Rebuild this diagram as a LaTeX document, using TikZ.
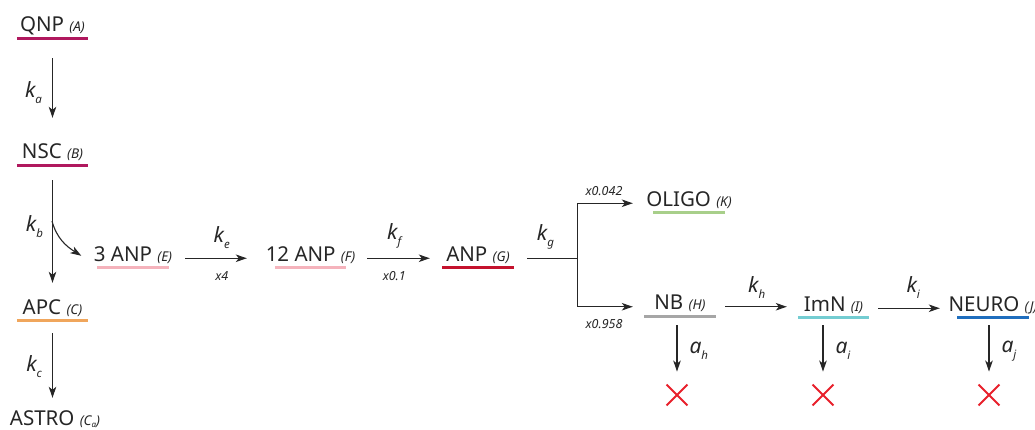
\documentclass[tikz,border=0pt]{standalone}
\usepackage{fontspec}
\setmainfont{Noto Sans}
\usetikzlibrary{arrows.meta,shapes.misc}
\definecolor{ink}{HTML}{262626}
\definecolor{cA}{HTML}{B0185E}
\definecolor{cC}{HTML}{F0A65C}
\definecolor{cE}{HTML}{F5B3BC}
\definecolor{cG}{HTML}{C4122D}
\definecolor{cK}{HTML}{A8CF8A}
\definecolor{cH}{HTML}{A6A6A6}
\definecolor{cI}{HTML}{74CDD2}
\definecolor{cJ}{HTML}{1F6EBE}
\definecolor{crossred}{HTML}{E8202B}
\newcommand\sm[1]{{\fontsize{13.5}{13.5}\selectfont\itshape #1}}
\newcommand\rl[2]{{\fontsize{21}{21}\selectfont\itshape #1}\raisebox{-6pt}{\fontsize{11.5}{11.5}\selectfont\itshape #2}}
\newcommand\ml[1]{{\fontsize{12.5}{12.5}\selectfont\itshape #1}}
\begin{document}
\begin{tikzpicture}[x=1pt,y=1pt,
  state/.style={inner sep=0pt, minimum width=71pt, text height=12pt, text depth=6.5pt, anchor=base, font=\fontsize{20.5}{20.5}\selectfont, text=ink},
  ul/.style={line width=3pt},
  arr/.style={draw=ink, line width=1.1pt, -{Stealth[length=11pt,width=7.5pt,inset=3pt]}},
  plain/.style={draw=ink, line width=1.1pt},
  lbl/.style={inner sep=0pt, text=ink},
  xmark/.style={cross out, draw=crossred, line width=1.9pt, minimum size=19pt, inner sep=0pt}]
\useasboundingbox (0,0) rectangle (1035,429);

% states
\node[state] (A) at (52.5,397.5) {\makebox[71pt]{QNP \sm{(A)}}};
\node[state] (B) at (52.5,270) {\makebox[71pt]{NSC \sm{(B)}}};
\node[state] (C) at (52.5,115) {\makebox[71pt]{APC \sm{(C)}}};
\node[state] (Ca) at (55,4) {\makebox[71pt]{ASTRO \sm{(C\raisebox{-2pt}{\fontsize{8}{8}\selectfont a})}}};
\node[state] (E) at (133,168) {\makebox[71pt]{3 ANP \sm{(E)}}};
\node[state] (F) at (310.5,168) {\makebox[71pt]{12 ANP \sm{(F)}}};
\node[state] (G) at (478,168) {\makebox[71pt]{ANP \sm{(G)}}};
\node[state] (K) at (689,223) {\makebox[71pt]{OLIGO \sm{(K)}}};
\node[state] (H) at (680,119.5) {\makebox[71pt]{NB \sm{(H)}}};
\node[state] (I) at (833.5,118) {\makebox[71pt]{ImN \sm{(I)}}};
\node[state] (J) at (993,118) {\makebox[71pt]{NEURO \sm{(J)}}};

% underlines
\draw[ul,draw=cA] (A.south west) -- (A.south east);
\draw[ul,draw=cA] (B.south west) -- (B.south east);
\draw[ul,draw=cC] (C.south west) -- (C.south east);
\draw[ul,draw=cE] (E.south west) -- (E.south east);
\draw[ul,draw=cE] (F.south west) -- (F.south east);
\draw[ul,draw=cG] (G.south west) -- (G.south east);
\draw[ul,draw=cK] (K.south west) -- (K.south east);
\draw[ul,draw=cH] (H.south west) -- (H.south east);
\draw[ul,draw=cI] (I.south west) -- (I.south east);
\draw[ul,draw=cJ] (J.south west) -- (J.south east);

% crosses
\node[xmark] (XH) at (677,34) {};
\node[xmark] (XI) at (823,34) {};
\node[xmark] (XJ) at (989,34) {};

% coordinates
\coordinate (kbsplit) at (52,208);
\path (G.east) ++(63.5,0) coordinate (split);

% connectors
\draw[arr, shorten <=20pt, shorten >=29pt] (A.south) -- node[lbl, midway, left=10pt] {\rl{k}{a}} (B.north);
\draw[arr, shorten <=14.5pt, shorten >=19pt] (B.south) -- node[lbl, pos=0.45, left=9pt] {\rl{k}{b}} (C.north);
\draw[arr] (kbsplit) to[out=-75, in=148] ([xshift=-16pt,yshift=2.5pt]E.west);
\draw[arr, shorten <=12.5pt, shorten >=15pt] (C.south) -- node[lbl, midway, left=10pt] {\rl{k}{c}} (C.south |- Ca.north);
\draw[arr, shorten <=16.5pt, shorten >=28pt] (E.east) --
  node[lbl, midway, above=9pt] {\rl{k}{e}}
  node[lbl, midway, below=13pt] {\ml{x4}} (F.west);
\draw[arr, shorten <=21pt, shorten >=12.5pt] (F.east) --
  node[lbl, midway, above=9pt] {\rl{k}{f}}
  node[lbl, midway, below=13pt] {\ml{x0.1}} (G.west);
\draw[plain, shorten <=13.5pt] (G.east) -- node[lbl, midway, above=8pt] {\rl{k}{g}} (split);
\draw[arr, shorten >=20.5pt] (split) |- node[lbl, pos=0.676, above=7pt] {\ml{x0.042}} (K.west);
\draw[arr, shorten >=11.5pt] (split) |- node[lbl, pos=0.7, below=12pt] {\ml{x0.958}} (H.west);
\draw[arr, shorten <=9.5pt, shorten >=11pt] (H.east) -- node[lbl, midway, above=8pt] {\rl{k}{h}} (H.east -| I.west);
\draw[arr, shorten <=9pt, shorten >=17.5pt] (I.east) -- node[lbl, midway, above=9pt] {\rl{k}{i}} (J.west);
\draw[arr, shorten <=9pt, shorten >=13pt] (H.south -| XH) -- node[lbl, midway, right=12pt] {\rl{a}{h}} (XH.north);
\draw[arr, shorten <=7.5pt, shorten >=13pt] (I.south -| XI) -- node[lbl, midway, right=12pt] {\rl{a}{i}} (XI.north);
\draw[arr, shorten <=7.5pt, shorten >=13pt] (J.south -| XJ) -- node[lbl, midway, right=12pt] {\rl{a}{j}} (XJ.north);
\end{tikzpicture}
\end{document}
